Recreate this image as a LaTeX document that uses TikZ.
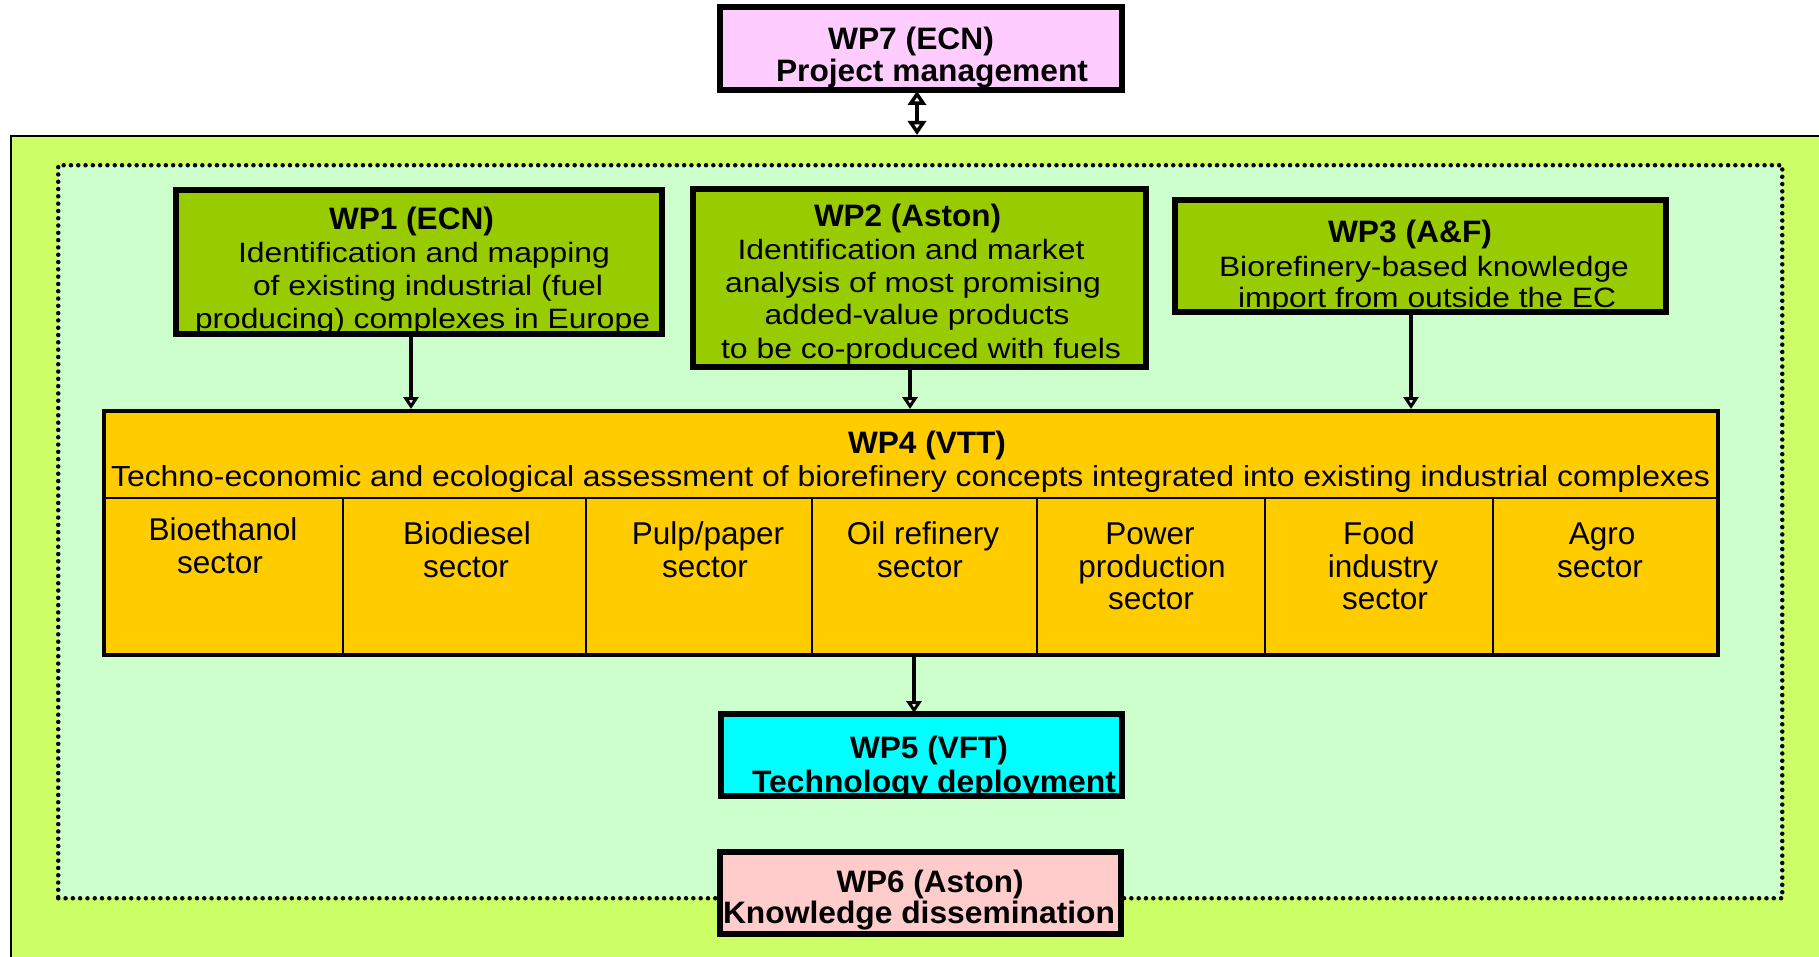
\documentclass[tikz,border=0pt]{standalone}
\usepackage{fontspec}
\setmainfont{Liberation Sans}
\usepackage{graphicx}
\usetikzlibrary{arrows.meta}

\definecolor{outergreen}{HTML}{CCFF66}
\definecolor{innergreen}{HTML}{CCFFCC}
\definecolor{wpgreen}{HTML}{99CC00}
\definecolor{wporange}{HTML}{FFCC00}
\definecolor{wpcyan}{HTML}{00FFFF}
\definecolor{wppink}{HTML}{FFCCCC}
\definecolor{wplilac}{HTML}{FFCCFF}

\newsavebox\fitbox
\newlength\fitlen
\newcommand\fitw[2]{\sbox\fitbox{#2}\setlength\fitlen{\wd\fitbox}\pgfmathsetmacro\fitf{#1/\fitlen}\scalebox{\fitf}[1]{\usebox\fitbox}}
\newcommand\tline[6]{\node[#1] (#2) at (#3,#4) {\fitw{#5}{#6}};}

\tikzset{
  wpbox/.style={draw=black, line width=4pt, rectangle, inner sep=0pt},
  rim/.style={draw=black, line width=4pt},
  txt/.style={anchor=base, inner sep=0pt, text=black},
  boldt/.style={txt, font=\fontsize{31}{36}\selectfont\bfseries},
  regt/.style={txt, font=\fontsize{28}{32}\selectfont},
  subt/.style={txt, font=\fontsize{29}{33}\selectfont},
  sec/.style={txt, font=\fontsize{31.5}{36}\selectfont},
  arr/.style={line width=4pt, -{Triangle[open,fill=white,width=15pt,length=12pt,line width=3.6pt]}},
  darr/.style={line width=4pt, {Triangle[open,fill=white,width=18pt,length=14pt,line width=4pt]}-{Triangle[open,fill=white,width=18pt,length=14pt,line width=4pt]}},
  divider/.style={line width=2.5pt},
}

\begin{document}
\begin{tikzpicture}[x=1pt,y=-1pt]
\useasboundingbox (0,0) rectangle (1819,957);
\clip (0,0) rectangle (1819,957);

% backgrounds
\node[draw=black, line width=2pt, fill=outergreen, inner sep=0pt, minimum width=1860pt, minimum height=900pt, anchor=north west] (outer) at (10,135) {};
\node[draw=black, line width=4.5pt, dash pattern=on 0pt off 7.3pt, line cap=round, fill=innergreen, inner sep=0pt, minimum width=1724pt, minimum height=733pt, anchor=north west] (inner) at (56,163) {};

% boxes
\node[wpbox, fill=wplilac, minimum width=400pt, minimum height=81pt] (wp7) at (921,48.5) {};
\node[wpbox, fill=wpgreen, minimum width=484pt, minimum height=142pt] (wp1) at (419,262) {};
\node[wpbox, fill=wpgreen, minimum width=451pt, minimum height=176pt] (wp2) at (919.5,278) {};
\node[wpbox, fill=wpgreen, minimum width=489pt, minimum height=110pt] (wp3) at (1420.5,256) {};
\node[wpbox, fill=wporange, minimum width=1614pt, minimum height=244pt] (wp4) at (911,533) {};
\node[wpbox, fill=wpcyan, minimum width=399pt, minimum height=80pt] (wp5) at (921.5,755) {};
\node[wpbox, fill=wppink, minimum width=399pt, minimum height=80pt] (wp6) at (920.5,893) {};

% WP4 dividers
\coordinate (hdr) at (0,498);
\draw[divider] (wp4.west |- hdr) -- (wp4.east |- hdr);
\foreach \xx [count=\i] in {343,586,812,1037,1265,1493}{
  \coordinate (dv\i) at (\xx,498);
  \draw[divider] (dv\i) -- (wp4.south -| dv\i);
}

% texts (clipped to their boxes)
\begin{scope}
\clip (wp7.south west) rectangle (wp7.north east);
\tline{boldt}{t7a}{911}{50}{166}{WP7 (ECN)}
\tline{boldt}{t7b}{932}{82}{312}{Project management}
\end{scope}
\begin{scope}
\clip (wp1.south west) rectangle (wp1.north east);
\tline{boldt}{t1a}{411.5}{230}{165}{WP1 (ECN)}
\tline{regt}{t1b}{424}{263}{372}{Identification and mapping}
\tline{regt}{t1c}{428}{296}{350}{of existing industrial (fuel}
\tline{regt}{t1d}{422.5}{328}{455}{producing) complexes in Europe}
\end{scope}
\begin{scope}
\clip (wp2.south west) rectangle (wp2.north east);
\tline{boldt}{t2a}{907.5}{227}{187}{WP2 (Aston)}
\tline{regt}{t2b}{911}{260}{347}{Identification and market}
\tline{regt}{t2c}{913}{293}{376}{analysis of most promising}
\tline{regt}{t2d}{917}{325}{305}{added-value products}
\tline{regt}{t2e}{921}{358}{400}{to be co-produced with fuels}
\end{scope}
\begin{scope}
\clip (wp3.south west) rectangle (wp3.north east);
\tline{boldt}{t3a}{1410}{243}{164}{WP3 (A\&F)}
\tline{regt}{t3b}{1424}{277}{410}{Biorefinery-based knowledge}
\tline{regt}{t3c}{1427}{308}{378}{import from outside the EC}
\end{scope}
\tline{boldt}{t4a}{927}{453}{158}{WP4 (VTT)}
\tline{subt}{t4b}{910.5}{486}{1599}{Techno-economic and ecological assessment of biorefinery concepts integrated into existing industrial complexes}
\begin{scope}
\clip (wp5.south west) rectangle (wp5.north east);
\tline{boldt}{t5a}{929}{758}{158}{WP5 (VFT)}
\tline{boldt}{t5b}{934}{792}{364}{Technology deployment}
\end{scope}
\begin{scope}
\clip (wp6.south west) rectangle (wp6.north east);
\tline{boldt}{t6a}{930}{892}{187}{WP6 (Aston)}
\tline{boldt}{t6b}{919}{923}{392}{Knowledge dissemination}
\end{scope}

% sector labels
\node[sec] (s1a) at (223,540) {Bioethanol};
\node[sec] (s1b) at (220,573) {sector};
\node[sec] (s2a) at (467,544) {Biodiesel};
\node[sec] (s2b) at (466,577) {sector};
\node[sec] (s3a) at (708,544) {Pulp/paper};
\node[sec] (s3b) at (705,577) {sector};
\node[sec] (s4a) at (923,544) {Oil refinery};
\node[sec] (s4b) at (920,577) {sector};
\node[sec] (s5a) at (1150,544) {Power};
\node[sec] (s5b) at (1152,577) {production};
\node[sec] (s5c) at (1151,609) {sector};
\node[sec] (s6a) at (1379,544) {Food};
\node[sec] (s6b) at (1383,577) {industry};
\node[sec] (s6c) at (1385,609) {sector};
\node[sec] (s7a) at (1602,544) {Agro};
\node[sec] (s7b) at (1600,577) {sector};

% re-stroke box borders over clipped text
\foreach \n in {wp7,wp1,wp2,wp3,wp5,wp6}{
  \draw[rim] (\n.south west) rectangle (\n.north east);
}

% connectors
\coordinate (a1) at (411,0);
\coordinate (a2) at (910,0);
\coordinate (a3) at (1411,0);
\coordinate (a5) at (914,0);
\coordinate (a7) at (917,0);
\draw[arr] (wp1.south -| a1) -- (wp4.north -| a1);
\draw[arr] (wp2.south -| a2) -- (wp4.north -| a2);
\draw[arr] (wp3.south -| a3) -- (wp4.north -| a3);
\draw[arr] (wp4.south -| a5) -- (wp5.north -| a5);
\draw[darr] (wp7.south -| a7) -- (outer.north -| a7);
\end{tikzpicture}
\end{document}
